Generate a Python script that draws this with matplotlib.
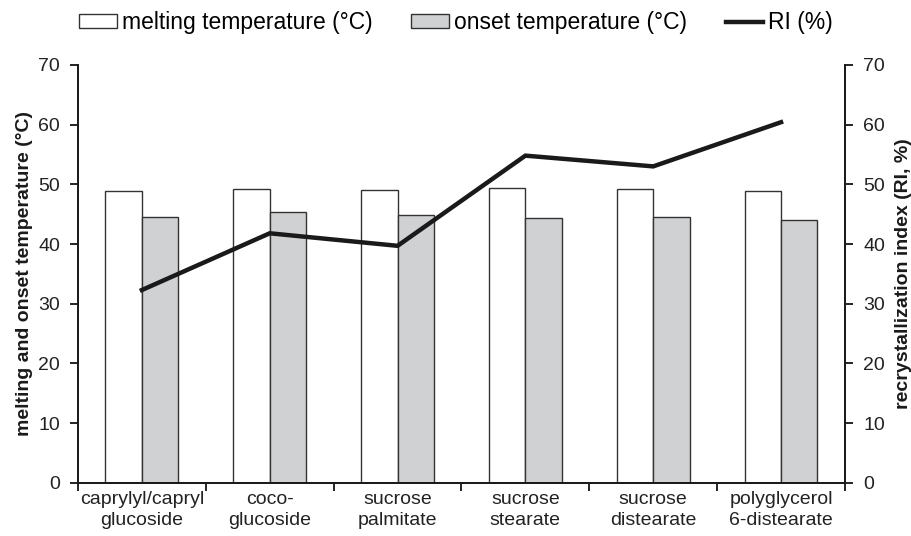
import numpy as np
import matplotlib.pyplot as plt

plt.rcParams['font.family'] = ['Liberation Sans', 'DejaVu Sans']

# data
categories = ['caprylyl/capryl\nglucoside', 'coco-\nglucoside', 'sucrose\npalmitate',
              'sucrose\nstearate', 'sucrose\ndistearate', 'polyglycerol\n6-distearate']
melting = [48.9, 49.2, 49.1, 49.3, 49.2, 48.9]
onset = [44.6, 45.3, 44.9, 44.3, 44.6, 44.0]
ri = [32.3, 41.8, 39.7, 54.8, 53.0, 60.4]

fig = plt.figure(figsize=(9.12, 5.36), dpi=100)
ax = fig.add_axes([0.0855, 0.099, 0.841, 0.780])
ax2 = ax.twinx()

x = np.arange(len(categories))
w = 0.285
b1 = ax.bar(x - w / 2, melting, w, color='white', edgecolor='#333333', linewidth=1.0)
b2 = ax.bar(x + w / 2, onset, w, color='#d0d1d3', edgecolor='#333333', linewidth=1.0)
ln, = ax2.plot(x, ri, color='#1a1a1a', linewidth=3.2, solid_joinstyle='miter')

ax.set_xlim(-0.5, len(categories) - 0.5)
ax.set_ylim(0, 70)
ax2.set_ylim(0, 70)
ax.set_yticks(range(0, 71, 10))
ax2.set_yticks(range(0, 71, 10))

ax.set_xticks(x)
ax.set_xticklabels(categories, fontsize=14, color='#222222', linespacing=1.3)
ax.set_xticks(np.arange(-0.5, len(categories), 1.0), minor=True)
ax.tick_params(axis='x', which='major', length=0, pad=6)
ax.tick_params(axis='x', which='minor', length=6, width=1.2, direction='out')
ax.tick_params(axis='y', labelsize=14, length=6, width=1.2, pad=7, labelcolor='#222222')
ax2.tick_params(axis='y', labelsize=14, length=6, width=1.2, pad=7, labelcolor='#222222')

for a in (ax, ax2):
    a.spines['top'].set_visible(False)
    for s in ('left', 'right', 'bottom'):
        a.spines[s].set_linewidth(1.3)
        a.spines[s].set_color('#1a1a1a')

ax.set_ylabel('melting and onset temperature (°C)', fontsize=14, fontweight='bold',
              color='#1a1a1a')
ax.yaxis.set_label_coords(-0.058, 0.5)
ax2.set_ylabel('recrystallization index (RI, %)', fontsize=14, fontweight='bold',
               color='#1a1a1a')
ax2.yaxis.set_label_coords(1.065, 0.5)

fig.legend([b1, b2, ln], ['melting temperature (°C)', 'onset temperature (°C)', 'RI (%)'],
           loc='center', bbox_to_anchor=(0.5, 0.958), ncol=3, frameon=False,
           fontsize=16.5, handlelength=1.65, handleheight=0.55, handletextpad=0.2,
           columnspacing=1.7)

fig.savefig('out.png', dpi=100)
